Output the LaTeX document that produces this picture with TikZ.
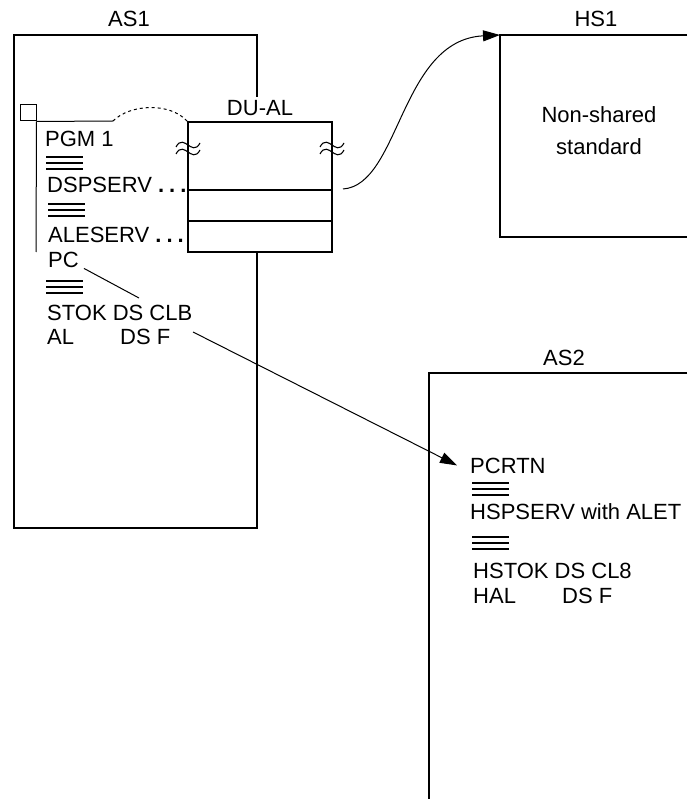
\documentclass[tikz,border=0pt]{standalone}
\usepackage{fontspec}
\setmainfont{Liberation Sans}
\usetikzlibrary{arrows.meta}

\begin{document}
\begin{tikzpicture}[x=1pt, y=-1pt, >={Triangle[length=17pt,width=11pt]},
    txt/.style={anchor=base west, inner sep=0pt, font=\fontsize{22}{24}\selectfont},
    ttl/.style={anchor=base, inner sep=0pt, font=\fontsize{22}{24}\selectfont},
    frame/.style={line width=1.2pt},
    tripleln/.pic={\draw[line width=1.2pt] (0,0) -- (37,0) (0,6) -- (37,6) (0,12) -- (37,12);},
    brkmark/.pic={\draw[line width=1.1pt] (-12,2) .. controls (-8,-6) and (-3,-2) .. (0,0) .. controls (3,2) and (8,6) .. (12,-2)
        (-12,9) .. controls (-8,1) and (-3,5) .. (0,7) .. controls (3,9) and (8,13) .. (12,5);}]
    \useasboundingbox (0,0) rectangle (687,799);

    % AS1
    \draw[frame] (257,97) -- (257,35) -- (14,35) -- (14,528) -- (257,528) -- (257,252);
    \node[ttl] (as1) at (129,27) {AS1};

    % DU-AL
    \node[draw, frame, minimum width=144pt, minimum height=130pt, inner sep=0pt] (dual) at (260,187) {};
    \draw[frame] (188,190) -- (332,190) (188,221) -- (332,221);
    \node[ttl] (dualtxt) at (260,116) {DU-AL};
    \pic at (188,145) {brkmark};
    \pic at (332,145) {brkmark};

    % pointer
    \node[draw, line width=1pt, minimum size=16pt, inner sep=0pt] (sq) at (28,113) {};
    \coordinate (sqend) at (113,121);
    \coordinate (sqfoot) at (36,252);
    \draw[line width=1pt] (sq.south east) -- (sqend);
    \draw[line width=1pt] (sq.south east) -- (sqfoot);
    \draw[line width=1pt, dash pattern=on 3pt off 3pt] (sqend) .. controls (130,104) and (170,102) .. (dual.north west);

    \node[txt] (pgm) at (45,147) {PGM 1};
    \pic at (46,157) {tripleln};
    \node[txt] (dsp) at (47,193) {DSPSERV \textbf{.\hspace{5pt}.\hspace{5pt}.}};
    \pic at (48,204) {tripleln};
    \node[txt] (ale) at (48,243) {ALESERV \textbf{.\hspace{5pt}.\hspace{5pt}.}};
    \node[txt] (pc) at (48,268) {PC};
    \pic at (46,281) {tripleln};
    \node[txt] (stok) at (47,320) {STOK DS CLB};
    \node[txt] (al) at (47,344) {AL};
    \node[txt] (dsf) at (120,344) {DS F};
    \coordinate (pcend) at (139,298);
    \draw[line width=1pt] ([xshift=5pt]pc.south east) -- (pcend);

    % HS1
    \draw[frame] (687,35) -- (500,35) -- (500,237) -- (687,237);
    \coordinate (hs1) at (500,35);
    \node[ttl] (hs1txt) at (596,27) {HS1};
    \node[ttl] (nonsh) at (599,123) {Non-shared};
    \node[ttl] (std) at (599,155) {standard};
    \coordinate (dspout) at (343,189);
    \draw[->, line width=1pt] (dspout) .. controls (400,185) and (400,40) .. (hs1);

    % AS2
    \draw[frame] (687,373) -- (429,373) -- (429,799);
    \node[ttl] (as2) at (564,365) {AS2};
    \node[txt] (pcrtn) at (470,473) {PCRTN};
    \pic at (472,483) {tripleln};
    \node[txt] (hsp) at (470,519) {HSPSERV with ALET};
    \pic at (472,537) {tripleln};
    \node[txt] (hstok) at (473,578) {HSTOK DS CL8};
    \node[txt] (hal) at (473,603) {HAL};
    \node[txt] (hdsf) at (562,603) {DS F};
    \coordinate (dsfout) at (193,332);
    \draw[->, line width=1pt] (dsfout) -- ([xshift=-13pt]pcrtn.west);
\end{tikzpicture}
\end{document}
